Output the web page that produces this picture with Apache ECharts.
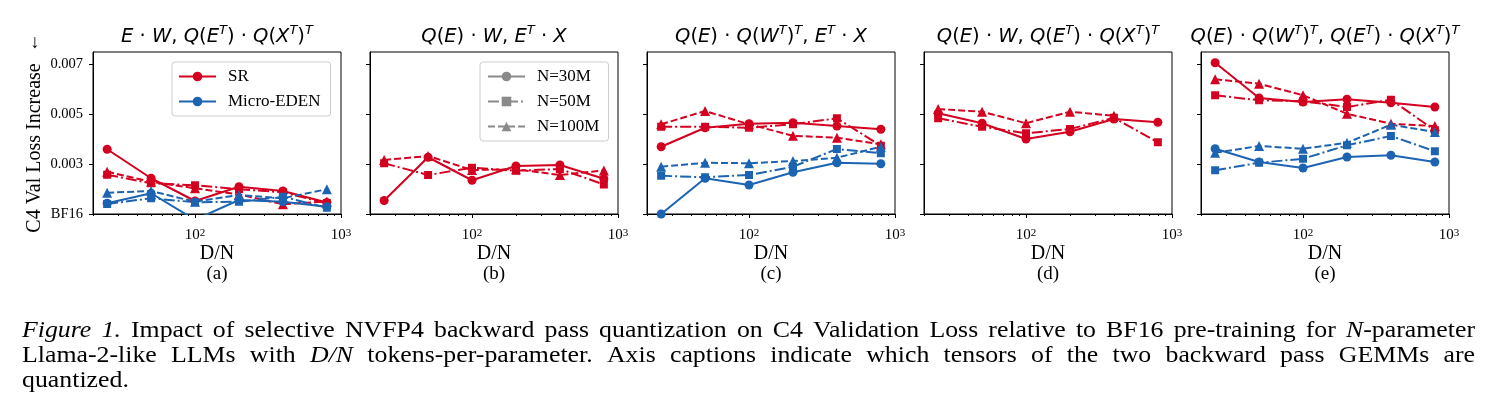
<!DOCTYPE html>
<html lang="en">
<head>
<meta charset="UTF-8">
<title>NVFP4 backward pass quantization</title>
<script src="https://cdn.jsdelivr.net/npm/echarts@6/dist/echarts.min.js"></script>
<style>
    html, body { margin: 0; padding: 0; background: #fff; }
    #chart { width: 1491px; height: 418px; }
</style>
</head>
<body>
<div id="chart"></div>
<script>
// tokens per parameter (x) and axis ticks
var dn = [25, 50, 100, 200, 400, 800];
var xMajor = [100, 1000];
var xMinor = [20, 30, 40, 50, 60, 70, 80, 90, 200, 300, 400, 500, 600, 700, 800, 900];
var yTicks = [0.001, 0.003, 0.005, 0.007];   // 0.001 is shown as BF16
var panelLabels = ['(a)', '(b)', '(c)', '(d)', '(e)'];

// (a)  E.W, Q(E^T).Q(X^T)^T
var srA30  = [0.00359, 0.00243, 0.00152, 0.00209, 0.00192, 0.00146];
var srA50  = [0.00257, 0.00223, 0.00215, 0.00199, 0.00187, 0.00143];
var srA100 = [0.00269, 0.00229, 0.00203, 0.00178, 0.00139, 0.00150];
var edA30  = [0.00143, 0.00183, 0.00077, 0.00156, 0.00149, 0.00129];
var edA50  = [0.00140, 0.00163, 0.00147, 0.00149, 0.00169, 0.00125];
var edA100 = [0.00185, 0.00192, 0.00149, 0.00176, 0.00163, 0.00199];
// (b)  Q(E).W, E^T.X
var srB30  = [0.00154, 0.00327, 0.00235, 0.00292, 0.00296, 0.00241];
var srB50  = [0.00303, 0.00256, 0.00285, 0.00273, 0.00280, 0.00218];
var srB100 = [0.00316, 0.00332, 0.00276, 0.00279, 0.00256, 0.00274];
// (c)  Q(E).Q(W^T)^T, E^T.X
var srC30  = [0.00369, 0.00445, 0.00461, 0.00465, 0.00452, 0.00439];
var srC50  = [0.00449, 0.00449, 0.00445, 0.00459, 0.00483, 0.00373];
var srC100 = [0.00459, 0.00512, 0.00459, 0.00413, 0.00405, 0.00379];
var edC30  = [0.00100, 0.00243, 0.00216, 0.00267, 0.00305, 0.00301];
var edC50  = [0.00253, 0.00247, 0.00256, 0.00289, 0.00360, 0.00343];
var edC100 = [0.00289, 0.00305, 0.00303, 0.00312, 0.00325, 0.00369];
// (d)  Q(E).W, Q(E^T).Q(X^T)^T
var srD30  = [0.00503, 0.00463, 0.00400, 0.00429, 0.00480, 0.00467];
var srD50  = [0.00483, 0.00449, 0.00423, 0.00440, 0.00485, 0.00387];
var srD100 = [0.00520, 0.00509, 0.00463, 0.00509, 0.00493, null];
// (e)  Q(E).Q(W^T)^T, Q(E^T).Q(X^T)^T
var srE30  = [0.00705, 0.00564, 0.00548, 0.00559, 0.00545, 0.00528];
var srE50  = [0.00575, 0.00555, 0.00551, 0.00528, 0.00557, 0.00435];
var srE100 = [0.00639, 0.00621, 0.00575, 0.00501, 0.00461, 0.00452];
var edE30  = [0.00361, 0.00308, 0.00284, 0.00328, 0.00335, 0.00308];
var edE50  = [0.00275, 0.00305, 0.00321, 0.00375, 0.00412, 0.00351];
var edE100 = [0.00345, 0.00372, 0.00361, 0.00385, 0.00457, 0.00428];

var RED = '#d3001f', BLUE = '#1c64b2', GRAY = '#8a8a8a';
var SERIF = '"Liberation Serif", "Times New Roman", serif';
var SANS = '"DejaVu Sans", sans-serif';

var lefts = [93, 370, 647, 924, 1201];
var gw = 248, gtop = 52, gh = 162;

// {i|..} italic, {s|..} superscript
var titles = [
    '{i|E} · {i|W}, {i|Q}({i|E}{s|T}) · {i|Q}({i|X}{s|T}){s|T}',
    '{i|Q}({i|E}) · {i|W}, {i|E}{s|T} · {i|X}',
    '{i|Q}({i|E}) · {i|Q}({i|W}{s|T}){s|T}, {i|E}{s|T} · {i|X}',
    '{i|Q}({i|E}) · {i|W}, {i|Q}({i|E}{s|T}) · {i|Q}({i|X}{s|T}){s|T}',
    '{i|Q}({i|E}) · {i|Q}({i|W}{s|T}){s|T}, {i|Q}({i|E}{s|T}) · {i|Q}({i|X}{s|T}){s|T}'
];

var styles = {
    30:  {symbol: 'circle',   size: 9,  type: 'solid'},
    50:  {symbol: 'rect',     size: 8,  type: [11, 3, 2, 3]},
    100: {symbol: 'triangle', size: 10, type: [7, 3]}
};

var panels = [
    [[srA30, RED, 30, 'SR'], [srA50, RED, 50], [srA100, RED, 100],
     [edA30, BLUE, 30, 'Micro-EDEN'], [edA50, BLUE, 50], [edA100, BLUE, 100]],
    [[srB30, RED, 30], [srB50, RED, 50], [srB100, RED, 100]],
    [[srC30, RED, 30], [srC50, RED, 50], [srC100, RED, 100],
     [edC30, BLUE, 30], [edC50, BLUE, 50], [edC100, BLUE, 100]],
    [[srD30, RED, 30], [srD50, RED, 50], [srD100, RED, 100]],
    [[srE30, RED, 30], [srE50, RED, 50], [srE100, RED, 100],
     [edE30, BLUE, 30], [edE50, BLUE, 50], [edE100, BLUE, 100]]
];

var grids = [], xAxes = [], yAxes = [], series = [], graphics = [];

panels.forEach(function (list, p) {
    grids.push({left: lefts[p], top: gtop, width: gw, height: gh,
        show: true, borderColor: '#000', borderWidth: 1, backgroundColor: 'transparent'});
    // major ticks + labels
    xAxes.push({
        type: 'log', logBase: 10, gridIndex: p, min: 20, max: 1000,
        axisLine: {show: true, lineStyle: {color: '#000', width: 1}},
        axisTick: {show: true, customValues: xMajor, length: 4, lineStyle: {color: '#000'}},
        axisLabel: {
            show: true, customValues: xMajor, margin: 14,
            formatter: function (v) { return '{b|10}{s|' + Math.round(Math.log10(v)) + '}'; },
            rich: {
                b: {fontSize: 15, fontFamily: SERIF, color: '#000'},
                s: {fontSize: 11, fontFamily: SERIF, color: '#000', verticalAlign: 'top'}
            }
        },
        splitLine: {show: false},
        name: 'D/N', nameLocation: 'middle', nameGap: 29,
        nameTextStyle: {fontFamily: SERIF, fontSize: 20, color: '#000'}
    });
    // minor ticks
    xAxes.push({
        type: 'log', logBase: 10, gridIndex: p, min: 20, max: 1000, position: 'bottom',
        axisLine: {show: false},
        axisTick: {show: true, customValues: xMinor, length: 2, lineStyle: {color: '#000'}},
        axisLabel: {show: false},
        splitLine: {show: false}
    });
    yAxes.push({
        type: 'value', gridIndex: p, min: 0.001, max: 0.00748,
        axisLine: {show: true, lineStyle: {color: '#000', width: 1}},
        axisTick: {show: true, customValues: yTicks, length: 4, lineStyle: {color: '#000'}},
        axisLabel: {
            show: p === 0, customValues: yTicks, margin: 10,
            fontFamily: SERIF, fontSize: 14.5, color: '#000',
            formatter: function (v) { return Math.abs(v - 0.001) < 1e-9 ? 'BF16' : v.toFixed(3); }
        },
        splitLine: {show: false}
    });

    list.forEach(function (s, k) {
        var st = styles[s[2]];
        series.push({
            type: 'line',
            name: s[3] || ('p' + p + '-' + k),
            xAxisIndex: p * 2, yAxisIndex: p,
            data: dn.map(function (x, i) { return [x, s[0][i]]; }),
            symbol: st.symbol, symbolSize: st.size, showSymbol: true,
            lineStyle: {color: s[1], width: 2, type: st.type},
            itemStyle: {color: s[1]},
            connectNulls: false, clip: true, silent: true
        });
    });

    graphics.push({
        type: 'text', x: lefts[p] + gw / 2, y: 37,
        style: {
            text: titles[p], fill: '#000', fontFamily: SANS, fontSize: 19.5,
            align: 'center', verticalAlign: 'middle', lineHeight: 26,
            rich: {
                i: {fontFamily: SANS, fontSize: 19.5, fontStyle: 'italic', fill: '#000', lineHeight: 26},
                s: {fontFamily: SANS, fontSize: 13, fontStyle: 'italic', fill: '#000', verticalAlign: 'top', lineHeight: 15}
            }
        }
    });
    graphics.push({
        type: 'text', x: lefts[p] + gw / 2, y: 274,
        style: {text: panelLabels[p], fill: '#000', fontFamily: SERIF, fontSize: 19,
            align: 'center', verticalAlign: 'middle'}
    });
});

// legend-only series for the model sizes
[['N=30M', 30], ['N=50M', 50], ['N=100M', 100]].forEach(function (n) {
    var st = styles[n[1]];
    series.push({
        type: 'line', name: n[0], xAxisIndex: 2, yAxisIndex: 1, data: [],
        symbol: st.symbol, symbolSize: st.size,
        lineStyle: {color: GRAY, width: 2, type: st.type}, itemStyle: {color: GRAY}
    });
});

// y axis caption
graphics.push({
    type: 'text', x: 35, y: 148, rotation: Math.PI / 2,
    style: {text: 'C4 Val Loss Increase', fill: '#000', fontFamily: SERIF, fontSize: 20,
        align: 'center', verticalAlign: 'middle'}
});
graphics.push({
    type: 'text', x: 35, y: 43,
    style: {text: '↓', fill: '#000', fontFamily: SERIF, fontSize: 19,
        align: 'center', verticalAlign: 'middle'}
});

// figure caption: glyphs are wider than plain Times here, so words are stretched
// horizontally, then the first two lines are justified
var capSize = 22.5, capLeft = 22, capWidth = 1453;
var capLines = [
    '*Figure* *1.* Impact of selective NVFP4 backward pass quantization on C4 Validation Loss relative to BF16 pre-training for *N*-parameter',
    'Llama-2-like LLMs with *D/N* tokens-per-parameter. Axis captions indicate which tensors of the two backward pass GEMMs are',
    'quantized.'
];
var capY = [331, 356, 381];
var ctx = document.createElement('canvas').getContext('2d');
function segs(word) {
    return word.split('*').map(function (t, i) { return [t, i % 2 === 1]; })
        .filter(function (s) { return s[0].length; });
}
function segWidth(s) {
    ctx.font = (s[1] ? 'italic ' : '') + capSize + 'px ' + SERIF;
    return ctx.measureText(s[0]).width;
}
var spaceW = capSize * 0.45;
var lineInfo = capLines.map(function (line) {
    var words = line.split(' ');
    var widths = words.map(function (w) {
        return segs(w).reduce(function (a, s) { return a + segWidth(s); }, 0);
    });
    return {words: words, widths: widths, total: widths.reduce(function (a, b) { return a + b; }, 0)};
});
var l0 = lineInfo[0];
var capScale = (capWidth - spaceW * (l0.words.length - 1)) / l0.total;
lineInfo.forEach(function (info, li) {
    var n = info.words.length;
    var gap = li < 2 ? (capWidth - info.total * capScale) / (n - 1) : capSize * 0.3;
    var x = capLeft;
    info.words.forEach(function (w, wi) {
        var txt = segs(w).map(function (s) { return (s[1] ? '{it|' : '{rm|') + s[0] + '}'; }).join('');
        graphics.push({
            type: 'text', x: x, y: capY[li], scaleX: capScale,
            style: {
                text: txt, fill: '#000', fontFamily: SERIF, fontSize: capSize,
                align: 'left', verticalAlign: 'middle',
                rich: {
                    it: {fontFamily: SERIF, fontSize: capSize, fontStyle: 'italic', fill: '#000'},
                    rm: {fontFamily: SERIF, fontSize: capSize, fill: '#000'}
                }
            }
        });
        x += info.widths[wi] * capScale + gap;
    });
});

var legendBase = {
    orient: 'vertical', selectedMode: false,
    itemWidth: 37, itemHeight: 12, itemGap: 8,
    textStyle: {fontFamily: SERIF, fontSize: 17, color: '#000', lineHeight: 17, padding: [0, 0, 0, 7]},
    borderColor: '#cccccc', borderWidth: 1, borderRadius: 3,
    backgroundColor: 'rgba(255,255,255,0.85)'
};

var myChart = echarts.init(document.getElementById('chart'));
var option = {
    animation: false,
    textStyle: {fontFamily: SERIF},
    grid: grids,
    xAxis: xAxes,
    yAxis: yAxes,
    legend: [
        Object.assign({}, legendBase, {data: ['SR', 'Micro-EDEN'], left: 172, top: 62, padding: [6, 10, 6, 6]}),
        Object.assign({}, legendBase, {data: ['N=30M', 'N=50M', 'N=100M'], left: 480, top: 62, padding: [6, 9, 6, 7]})
    ],
    series: series,
    graphic: graphics
};
myChart.setOption(option);
</script>
</body>
</html>
